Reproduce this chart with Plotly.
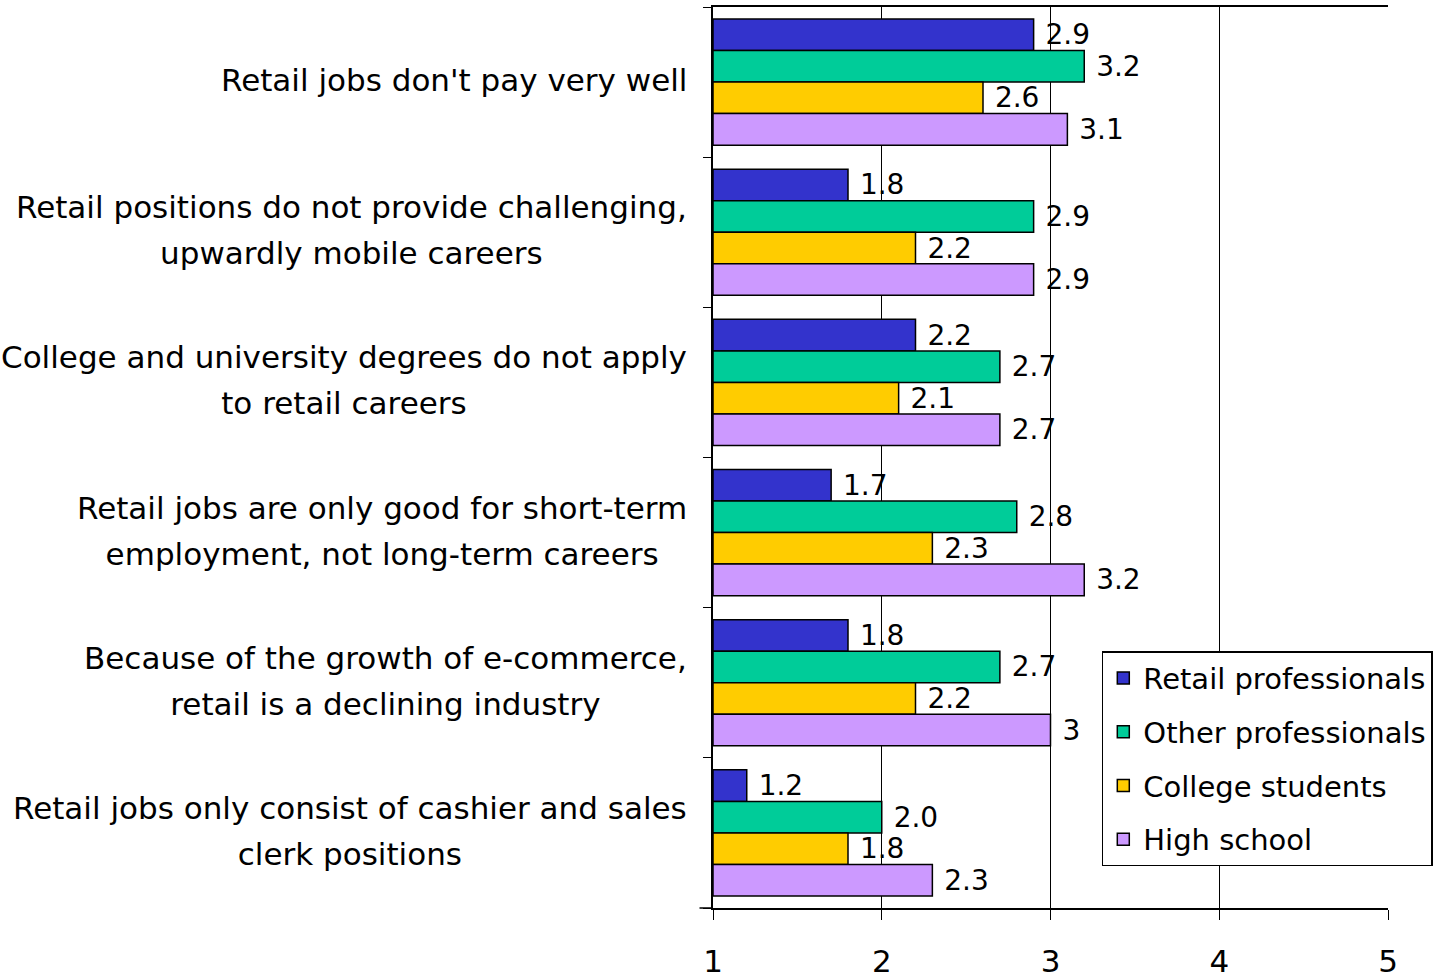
import plotly.graph_objects as go

categories = [
    ["Retail jobs don't pay very well"],
    ["Retail positions do not provide challenging,", "upwardly mobile careers"],
    ["College and university degrees do not apply", "to retail careers"],
    ["Retail jobs are only good for short-term", "employment, not long-term careers"],
    ["Because of the growth of e-commerce,", "retail is a declining industry"],
    ["Retail jobs only consist of cashier and sales", "clerk positions"],
]

series_names = ["Retail professionals", "Other professionals", "College students", "High school"]
retail_prof = [2.9, 1.8, 2.2, 1.7, 1.8, 1.2]
other_prof = [3.2, 2.9, 2.7, 2.8, 2.7, 2.0]
college = [2.6, 2.2, 2.1, 2.3, 2.2, 1.8]
high_school = [3.1, 2.9, 2.7, 3.2, 3.0, 2.3]

retail_prof_labels = ["2.9", "1.8", "2.2", "1.7", "1.8", "1.2"]
other_prof_labels = ["3.2", "2.9", "2.7", "2.8", "2.7", "2.0"]
college_labels = ["2.6", "2.2", "2.1", "2.3", "2.2", "1.8"]
high_school_labels = ["3.1", "2.9", "2.7", "3.2", "3", "2.3"]

x_ticks = [1, 2, 3, 4, 5]

colors = ["#3333CC", "#00CC99", "#FFCC00", "#CC99FF"]
FONT = "DejaVu Sans"
LABEL_SIZE = 31          # glyph size of the category labels
LINE_PITCH_SIZE = 35.5   # annotation font size, sets the distance between lines

fig = go.Figure()
all_values = [retail_prof, other_prof, college, high_school]
all_labels = [retail_prof_labels, other_prof_labels, college_labels, high_school_labels]
for name, vals, labs, col in zip(series_names, all_values, all_labels, colors):
    fig.add_trace(go.Bar(
        orientation="h",
        y=list(range(len(categories))),
        x=[v - 1 for v in vals],
        base=1,
        name=name,
        legendgroup=name,
        marker=dict(color=col, line=dict(color="black", width=1.5)),
        text=[" " + t for t in labs],
        textposition="outside",
        constraintext="none",
        cliponaxis=False,
        textfont=dict(family=FONT, size=28, color="black"),
        hoverinfo="skip",
    ))

# Category labels: centred text blocks to the left of the axis
span = "<span style='font-size:%dpx'>%%s</span>" % LABEL_SIZE
for i, lines in enumerate(categories):
    fig.add_annotation(
        x=-0.035, xref="paper", y=i, yref="y", yshift=2,
        text="<br>".join(span % ln for ln in lines),
        showarrow=False, xanchor="right", yanchor="middle", align="center",
        font=dict(family=FONT, size=LINE_PITCH_SIZE, color="black"),
    )

# x axis line runs a little past the left axis
fig.add_shape(type="line", xref="paper", yref="paper", x0=-0.02, x1=0, y0=0, y1=0,
              line=dict(color="black", width=1.5))

fig.update_layout(
    width=1438, height=978,
    margin=dict(l=713, r=50, t=7, b=70, autoexpand=False),
    paper_bgcolor="white", plot_bgcolor="white",
    barmode="group", bargap=0.16, bargroupgap=0,
    showlegend=True,
    legend=dict(
        x=0.576, y=0.285, xanchor="left", yanchor="top",
        bordercolor="black", borderwidth=1.5, bgcolor="white",
        font=dict(family=FONT, size=29, color="black"),
        tracegroupgap=13,
    ),
    xaxis=dict(
        range=[1, 5], tickvals=x_ticks, ticktext=[str(t) for t in x_ticks],
        showgrid=True, gridcolor="black", gridwidth=1,
        showline=True, linecolor="black", linewidth=1.5, mirror=True,
        ticks="outside", ticklen=10, tickcolor="black", tickwidth=1,
        ticklabelstandoff=15,
        tickfont=dict(family=FONT, size=31, color="black"),
        zeroline=False, automargin=False,
    ),
    yaxis=dict(
        type="linear", range=[5.5, -0.5],
        tickvals=[i - 0.5 for i in range(len(categories) + 1)],
        showticklabels=False,
        showgrid=False, zeroline=False,
        showline=True, linecolor="black", linewidth=1.5, mirror=False,
        ticks="outside", ticklen=8, tickcolor="black", tickwidth=1,
        automargin=False,
    ),
)

fig.write_html("out.html")
